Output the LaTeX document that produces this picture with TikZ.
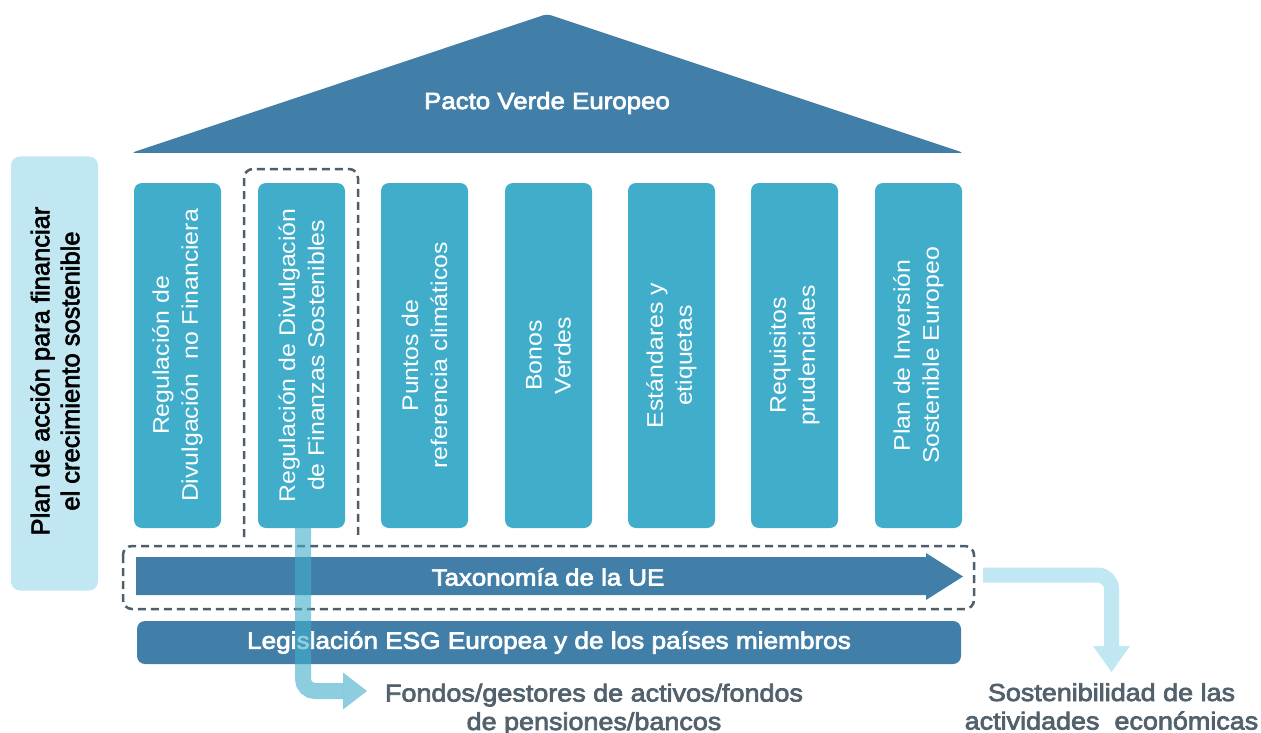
\documentclass[tikz,border=0pt]{standalone}
\usepackage{fontspec}
\setmainfont{Liberation Sans}
\newfontfamily\colfont[FakeStretch=1.1]{Liberation Sans}
\newfontfamily\medfont[FakeStretch=1.1,FakeBold=3]{Liberation Sans}
\newfontfamily\sidefont[FakeBold=2.5]{Liberation Sans}
\usetikzlibrary{arrows.meta}
\definecolor{roofblue}{HTML}{417FA9}
\definecolor{colblue}{HTML}{40AECB}
\definecolor{paleblue}{HTML}{C1E7F3}
\definecolor{dashgray}{HTML}{4E5E6A}
\definecolor{txtgray}{HTML}{52616C}
\begin{document}
\begin{tikzpicture}[x=1pt,y=-1pt,
  pillar/.style={fill=colblue, rounded corners=8pt, minimum width=87pt, minimum height=345pt, inner sep=0pt},
  pillartext/.style={text=white, align=center, rotate=90, inner sep=0pt, font=\colfont\fontsize{22.6}{29}\selectfont},
  headtext/.style={text=white, inner sep=0pt, font=\medfont\fontsize{23.5}{28}\selectfont},
  dashbox/.style={draw=dashgray, line width=2.5pt, dash pattern=on 8pt off 5pt, rounded corners=9pt},
  bottomtext/.style={text=txtgray, align=center, inner sep=0pt, font=\medfont\fontsize{24.5}{28.5}\selectfont},
]
\useasboundingbox (0,0) rectangle (1261,733);
\fill[white] (0,0) rectangle (1261,733);

% roof
\fill[roofblue, rounded corners=4pt] (131,153) -- (547,14) -- (964,153) -- cycle;
\node[headtext] (roof) at (547,103) {Pacto Verde Europeo};

% side bar
\node[fill=paleblue, rounded corners=9pt, minimum width=87pt, minimum height=434pt, inner sep=0pt] (side) at (54.5,373.5) {};
\node[rotate=90, align=center, inner sep=0pt, text=black, font=\sidefont\fontsize{25.5}{30}\selectfont] (sidetext) at (55,371) {Plan de acción para financiar\\el crecimiento sostenible};

% pillars
\node[pillar] (p1) at (177.5,355.5) {};
\node[pillar] (p2) at (301.5,355.5) {};
\node[pillar] (p3) at (424.5,355.5) {};
\node[pillar] (p4) at (548.5,355.5) {};
\node[pillar] (p5) at (671.5,355.5) {};
\node[pillar] (p6) at (794.5,355.5) {};
\node[pillar] (p7) at (918.5,355.5) {};
\node[pillartext] (t1) at (p1.center) {Regulación de\\Divulgación~ no Financiera};
\node[pillartext] (t2) at (p2.center) {Regulación de Divulgación\\de Finanzas Sostenibles};
\node[pillartext] (t3) at (p3.center) {Puntos de\\referencia climáticos};
\node[pillartext] (t4) at (p4.center) {Bonos\\Verdes};
\node[pillartext] (t5) at (p5.center) {Estándares y\\etiquetas};
\node[pillartext] (t6) at (p6.center) {Requisitos\\prudenciales};
\node[pillartext] (t7) at (p7.center) {Plan de Inversión\\Sostenible Europeo};

% dashed frames
\draw[dashbox] (244,537) -- (244,169) -- (358,169) -- (358,537);
\draw[dashbox] (123,546) rectangle (974,609);

% taxonomy arrow
\fill[roofblue] (136,557) -- (926,557) -- (926,553) -- (963,576.5) -- (926,600) -- (926,595) -- (136,595) -- cycle;
\node[headtext] (tax) at (548,577) {Taxonomía de la UE};

% legislation bar
\node[fill=roofblue, rounded corners=8pt, minimum width=824pt, minimum height=43pt, inner sep=0pt, headtext, font=\medfont\fontsize{23.8}{28}\selectfont] (leg) at (549,642.5) {Legislación ESG Europea y de los países miembros};

% bottom labels
\node[bottomtext, anchor=base] (fondos) at (594,730) {Fondos/gestores de activos/fondos\\de pensiones/bancos};
\node[bottomtext, anchor=base] (sost) at (1111.5,729.5) {Sostenibilidad de las\\actividades~ económicas};

% connectors
\coordinate (lcbase) at (343,691);
\coordinate (lcend) at (367,691);
\draw[colblue, opacity=0.6, line width=16pt, rounded corners=12pt]
  ([xshift=1.5pt]p2.south) |- (lcbase);
\fill[colblue, opacity=0.6] (343,672.5) -- (lcend) -- (343,709.5) -- cycle;
\coordinate (rcstart) at (983,575);
\coordinate (rcbase) at (1111.5,646);
\coordinate (rcend) at (1111.5,672);
\draw[paleblue, line width=15pt, rounded corners=14pt]
  (rcstart) -| (rcbase);
\fill[paleblue] (1093,646) -- (rcend) -- (1130,646) -- cycle;
\end{tikzpicture}
\end{document}
